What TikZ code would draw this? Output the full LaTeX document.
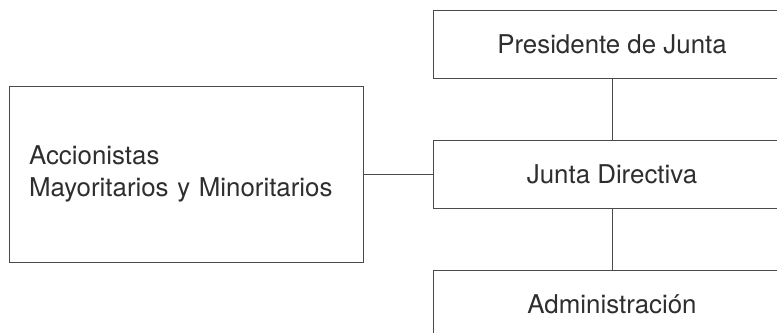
\documentclass[tikz,border=0pt]{standalone}
\usepackage{fontspec}
\setmainfont{TeX Gyre Heros}
\usepackage{xcolor}
\definecolor{Ink}{HTML}{2E2E2E}
\definecolor{Rule}{HTML}{4A4A4A}

\begin{document}
\begin{tikzpicture}[x=0.75pt,y=-0.75pt,
  every node/.style={text=Ink,font=\fontsize{19.4}{24}\selectfont},
  box/.style={draw=Rule,line width=0.75pt,minimum width=268.5pt,minimum height=51pt,inner sep=0pt},
  link/.style={draw=Rule,line width=0.75pt}]
\useasboundingbox (0,0) rectangle (777,332);
\clip (0,0) rectangle (777,332);
\coordinate (P) at (612,44);\coordinate (J) at (612,174);\coordinate (D) at (612,304);
\coordinate (S) at (186,174);
\node[box] (pres) at (P) {Presidente de Junta};
\node[box] (junta) at (J) {Junta Directiva};
\node[box] (admin) at (D) {Administraci\'on};
\node[box,minimum width=265.5pt,minimum height=132pt,align=left,text width=235.5pt,inner xsep=15pt] (acc) at (S) {Accionistas\\Mayoritarios y Minoritarios};
\draw[link] (acc.east)--(junta.west);
\draw[link] (pres.south)--(junta.north);
\draw[link] (junta.south)--(admin.north);
\end{tikzpicture}
\end{document}
